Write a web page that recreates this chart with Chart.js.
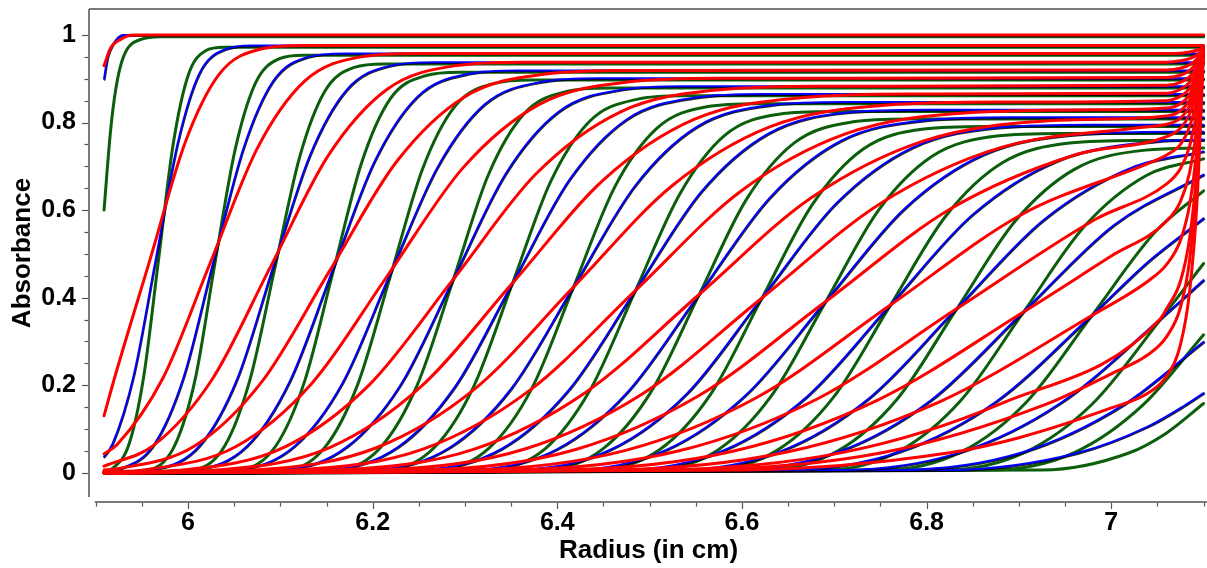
<!DOCTYPE html>
<html>
<head>
<meta charset="utf-8">
<script src="https://cdn.jsdelivr.net/npm/chart.js@4.4.1/dist/chart.umd.min.js"></script>
<style>
html,body{margin:0;padding:0;background:#fff;}
canvas{display:block;}
</style>
</head>
<body>
<canvas id="c" width="1207" height="568"></canvas>
<script>
// ---- data: each curve is a list of [radius, absorbance] points ----
const xTicks = [6, 6.2, 6.4, 6.6, 6.8, 7];
const yTicks = [0, 0.2, 0.4, 0.6, 0.8, 1];
const xTitle = 'Radius (in cm)';
const yTitle = 'Absorbance';

const green = [
 [[5.909,0.60],[5.916,0.78],[5.922,0.88],[5.930,0.95],[5.949,0.99],[5.97,0.996],[7.1,0.996]],
 [[5.909,0.003],[5.917,0.008],[5.936,0.065],[5.952,0.220],[5.968,0.486],[5.984,0.752],[6.000,0.907],[6.019,0.964],[6.039,0.972],[7.1,0.972]],
 [[5.909,0],[5.960,0.008],[5.986,0.064],[6.008,0.216],[6.029,0.477],[6.051,0.738],[6.073,0.890],[6.099,0.946],[6.125,0.954],[7.1,0.954]],
 [[5.909,0],[6.008,0.008],[6.040,0.062],[6.067,0.212],[6.094,0.467],[6.121,0.722],[6.148,0.871],[6.180,0.926],[6.212,0.934],[7.1,0.934]],
 [[5.909,0],[6.058,0.008],[6.095,0.061],[6.126,0.207],[6.157,0.458],[6.188,0.708],[6.219,0.854],[6.257,0.907],[6.294,0.915],[7.1,0.915]],
 [[5.909,0],[6.108,0.007],[6.149,0.060],[6.184,0.203],[6.219,0.448],[6.254,0.694],[6.289,0.837],[6.331,0.889],[6.373,0.897],[7.1,0.897]],
 [[5.909,0],[6.163,0.007],[6.209,0.059],[6.248,0.199],[6.287,0.439],[6.325,0.679],[6.364,0.820],[6.410,0.871],[6.456,0.879],[7.1,0.879]],
 [[5.909,0],[6.217,0.007],[6.267,0.058],[6.309,0.195],[6.351,0.430],[6.393,0.666],[6.435,0.803],[6.486,0.853],[6.536,0.861],[7.1,0.861]],
 [[5.909,0],[6.272,0.007],[6.326,0.056],[6.372,0.191],[6.417,0.421],[6.462,0.652],[6.508,0.787],[6.562,0.836],[6.617,0.843],[7.1,0.843]],
 [[5.909,0],[6.328,0.007],[6.387,0.055],[6.435,0.187],[6.484,0.413],[6.533,0.638],[6.581,0.770],[6.640,0.819],[6.698,0.825],[7.1,0.825]],
 [[5.909,0],[6.387,0.007],[6.449,0.054],[6.501,0.183],[6.553,0.404],[6.605,0.625],[6.657,0.754],[6.719,0.801],[6.781,0.808],[7.1,0.808]],
 [[5.909,0],[6.445,0.007],[6.511,0.053],[6.566,0.179],[6.621,0.396],[6.676,0.612],[6.731,0.739],[6.797,0.785],[6.863,0.791],[7.1,0.791]],
 [[5.909,0],[6.505,0.006],[6.574,0.052],[6.632,0.176],[6.690,0.388],[6.748,0.600],[6.806,0.723],[6.876,0.769],[6.945,0.775],[7.1,0.775]],
 [[5.909,0],[6.565,0.006],[6.638,0.051],[6.699,0.172],[6.760,0.380],[6.821,0.587],[6.882,0.708],[6.955,0.753],[7.028,0.759],[7.1,0.759]],
 [[5.909,0],[6.627,0.006],[6.704,0.050],[6.768,0.168],[6.832,0.372],[6.896,0.575],[6.960,0.693],[7.037,0.737],[7.1,0.742]],
 [[5.909,0],[6.690,0.006],[6.770,0.049],[6.837,0.165],[6.904,0.364],[6.971,0.563],[7.038,0.679],[7.1,0.717]],
 [[5.909,0],[6.754,0.006],[6.838,0.048],[6.908,0.161],[6.978,0.356],[7.048,0.551],[7.1,0.644]],
 [[5.909,0],[6.820,0.006],[6.907,0.047],[6.980,0.158],[7.053,0.349],[7.1,0.478]],
 [[5.909,0],[6.870,0.006],[6.960,0.046],[7.035,0.156],[7.1,0.315]],
 [[5.909,0],[6.925,0.006],[7.019,0.045],[7.06,0.091],[7.1,0.158]]
];

const blue = [
 [[5.909,0.90],[5.913,0.95],[5.919,0.98],[5.930,1.0],[7.1,1.0]],
 [[5.909,0.037],[5.918,0.065],[5.941,0.221],[5.965,0.488],[5.989,0.755],[6.012,0.911],[6.041,0.968],[6.069,0.976],[7.1,0.976]],
 [[5.909,0.003],[5.925,0.008],[5.963,0.064],[5.995,0.217],[6.027,0.479],[6.060,0.741],[6.092,0.894],[6.130,0.950],[6.169,0.958],[7.1,0.958]],
 [[5.909,0],[5.965,0.008],[6.013,0.063],[6.053,0.213],[6.092,0.469],[6.132,0.725],[6.172,0.875],[6.219,0.930],[6.267,0.938],[7.1,0.938]],
 [[5.909,0],[6.009,0.008],[6.064,0.061],[6.110,0.208],[6.156,0.460],[6.202,0.711],[6.248,0.858],[6.303,0.911],[6.358,0.919],[7.1,0.919]],
 [[5.909,0],[6.053,0.007],[6.115,0.060],[6.167,0.204],[6.218,0.450],[6.270,0.697],[6.321,0.841],[6.383,0.893],[6.445,0.901],[7.1,0.901]],
 [[5.909,0],[6.104,0.007],[6.172,0.059],[6.230,0.200],[6.287,0.441],[6.344,0.683],[6.401,0.824],[6.469,0.875],[6.538,0.883],[7.1,0.883]],
 [[5.909,0],[6.152,0.007],[6.227,0.058],[6.289,0.196],[6.351,0.432],[6.413,0.669],[6.475,0.807],[6.550,0.857],[6.625,0.865],[7.1,0.865]],
 [[5.909,0],[6.202,0.007],[6.283,0.057],[6.350,0.192],[6.417,0.423],[6.484,0.655],[6.551,0.790],[6.632,0.840],[6.713,0.847],[7.1,0.847]],
 [[5.909,0],[6.254,0.007],[6.340,0.055],[6.412,0.188],[6.484,0.415],[6.556,0.642],[6.628,0.774],[6.714,0.823],[6.801,0.829],[7.1,0.829]],
 [[5.909,0],[6.308,0.007],[6.400,0.054],[6.476,0.184],[6.553,0.406],[6.630,0.628],[6.707,0.758],[6.799,0.805],[6.891,0.812],[7.1,0.812]],
 [[5.909,0],[6.361,0.007],[6.458,0.053],[6.540,0.180],[6.621,0.398],[6.702,0.615],[6.784,0.742],[6.881,0.789],[6.979,0.795],[7.1,0.795]],
 [[5.909,0],[6.415,0.006],[6.518,0.052],[6.604,0.177],[6.690,0.390],[6.776,0.603],[6.862,0.727],[6.965,0.773],[7.068,0.779],[7.1,0.779]],
 [[5.909,0],[6.471,0.006],[6.580,0.051],[6.670,0.173],[6.760,0.382],[6.850,0.590],[6.941,0.712],[7.049,0.757],[7.1,0.761]],
 [[5.909,0],[6.529,0.006],[6.643,0.050],[6.737,0.169],[6.832,0.374],[6.927,0.578],[7.022,0.697],[7.1,0.734]],
 [[5.909,0],[6.587,0.006],[6.706,0.049],[6.805,0.166],[6.904,0.366],[7.003,0.566],[7.1,0.681]],
 [[5.909,0],[6.647,0.006],[6.771,0.048],[6.875,0.162],[6.978,0.358],[7.04,0.482],[7.1,0.581]],
 [[5.909,0],[6.708,0.006],[6.837,0.047],[6.945,0.159],[7.053,0.351],[7.1,0.440]],
 [[5.909,0],[6.770,0.006],[6.903,0.046],[7.014,0.156],[7.1,0.299]],
 [[5.909,0],[6.824,0.006],[6.963,0.045],[7.04,0.106],[7.079,0.153],[7.1,0.182]]
];

const red = [
 [[5.909,0.93],[5.916,0.97],[5.927,0.99],[5.941,1.0],[7.1,1.0]],
 [[5.909,0.13],[5.921,0.221],[5.959,0.488],[5.997,0.755],[6.034,0.911],[6.079,0.968],[6.125,0.976],[7.1,0.976]],
 [[5.909,0.043],[5.923,0.064],[5.973,0.217],[6.024,0.479],[6.075,0.741],[6.126,0.894],[6.187,0.950],[6.248,0.958],[7.07,0.958],[7.085,0.961],[7.1,0.97]],
 [[5.909,0.015],[5.963,0.063],[6.026,0.213],[6.089,0.469],[6.152,0.725],[6.215,0.875],[6.290,0.930],[6.366,0.938],[7.06,0.938],[7.075,0.941],[7.085,0.946],[7.093,0.955],[7.1,0.97]],
 [[5.909,0.006],[5.920,0.008],[6.007,0.061],[6.080,0.208],[6.153,0.460],[6.226,0.711],[6.299,0.858],[6.387,0.911],[6.474,0.919],[7.06,0.920],[7.075,0.924],[7.085,0.932],[7.093,0.946],[7.1,0.97]],
 [[5.909,0.002],[5.954,0.007],[6.052,0.060],[6.134,0.204],[6.216,0.450],[6.298,0.697],[6.380,0.841],[6.478,0.893],[6.576,0.901],[7.06,0.903],[7.075,0.908],[7.085,0.919],[7.093,0.938],[7.1,0.97]],
 [[5.909,0.001],[5.997,0.007],[6.105,0.059],[6.196,0.200],[6.287,0.441],[6.377,0.683],[6.468,0.824],[6.576,0.875],[6.685,0.883],[7.06,0.885],[7.075,0.892],[7.085,0.905],[7.093,0.929],[7.1,0.97]],
 [[5.909,0],[6.035,0.007],[6.154,0.058],[6.252,0.196],[6.351,0.432],[6.450,0.669],[6.548,0.807],[6.667,0.857],[6.785,0.865],[7.06,0.867],[7.075,0.876],[7.085,0.892],[7.093,0.921],[7.1,0.97]],
 [[5.909,0],[6.076,0.007],[6.204,0.057],[6.311,0.192],[6.417,0.423],[6.524,0.655],[6.630,0.790],[6.758,0.840],[6.886,0.847],[7.06,0.850],[7.075,0.860],[7.085,0.878],[7.093,0.912],[7.1,0.97]],
 [[5.909,0],[6.119,0.007],[6.256,0.055],[6.370,0.188],[6.484,0.415],[6.598,0.642],[6.712,0.774],[6.849,0.823],[6.986,0.829],[7.06,0.833],[7.075,0.843],[7.085,0.864],[7.093,0.903],[7.1,0.97]],
 [[5.909,0],[6.164,0.007],[6.310,0.054],[6.431,0.184],[6.553,0.406],[6.675,0.628],[6.797,0.758],[6.943,0.805],[7.06,0.815],[7.075,0.827],[7.085,0.852],[7.093,0.895],[7.1,0.97]],
 [[5.909,0],[6.213,0.007],[6.363,0.053],[6.492,0.180],[6.621,0.398],[6.750,0.615],[6.879,0.742],[7.034,0.789],[7.06,0.796],[7.075,0.810],[7.085,0.838],[7.093,0.888],[7.1,0.97]],
 [[5.909,0],[6.255,0.006],[6.418,0.052],[6.554,0.177],[6.690,0.390],[6.826,0.603],[6.962,0.727],[7.06,0.768],[7.075,0.787],[7.085,0.820],[7.093,0.875],[7.1,0.97]],
 [[5.909,0],[6.302,0.006],[6.474,0.051],[6.617,0.173],[6.760,0.382],[6.903,0.590],[7.046,0.712],[7.06,0.726],[7.075,0.750],[7.085,0.791],[7.093,0.858],[7.1,0.97]],
 [[5.909,0],[6.351,0.006],[6.532,0.050],[6.682,0.169],[6.832,0.374],[6.982,0.578],[7.06,0.660],[7.075,0.695],[7.085,0.747],[7.093,0.831],[7.1,0.97]],
 [[5.909,0],[6.401,0.006],[6.590,0.049],[6.747,0.166],[6.904,0.366],[7.0,0.495],[7.06,0.575],[7.075,0.620],[7.085,0.687],[7.093,0.794],[7.1,0.97]],
 [[5.909,0],[6.453,0.006],[6.650,0.048],[6.814,0.162],[6.978,0.358],[7.04,0.438],[7.06,0.476],[7.075,0.531],[7.085,0.614],[7.093,0.749],[7.1,0.97]],
 [[5.909,0],[6.505,0.006],[6.711,0.047],[6.882,0.159],[7.053,0.351],[7.06,0.375],[7.075,0.438],[7.085,0.538],[7.093,0.701],[7.1,0.97]],
 [[5.909,0],[6.542,0.006],[6.753,0.046],[6.929,0.156],[7.0,0.226],[7.04,0.270],[7.06,0.311],[7.075,0.378],[7.085,0.488],[7.093,0.669],[7.1,0.97]],
 [[5.909,0],[6.602,0.006],[6.823,0.045],[6.9,0.080],[7.0,0.148],[7.04,0.182],[7.06,0.221],[7.075,0.293],[7.085,0.416],[7.093,0.623],[7.1,0.97]]
];

// ---- styling ----
const COL_RED = '#ff0000', COL_BLUE = '#0000ff', COL_GREEN = '#0b5e0b';
const FONT = '"Liberation Sans", Arial, Helvetica, sans-serif';
const AXIS_COL = '#7a7a7a';

function mk(curve, color, width, order, shadow) {
  return {
    data: curve.map(p => ({x: p[0], y: p[1]})),
    borderColor: color, borderWidth: width, order: order,
    fill: false, pointRadius: 0, cubicInterpolationMode: 'monotone',
    borderJoinStyle: 'round', borderCapStyle: 'round', shadow: shadow
  };
}
const datasets = [];
green.forEach(c => datasets.push(mk(c, COL_GREEN, 3, 3, false)));
blue.forEach(c => datasets.push(mk(c, COL_BLUE, 2, 2, true)));
red.forEach(c => datasets.push(mk(c, COL_RED, 3, 1, false)));

const shadowPlugin = {
  id: 'blueShadow',
  beforeDatasetDraw(chart, args) {
    const ds = chart.data.datasets[args.index];
    if (ds.shadow) {
      const ctx = chart.ctx;
      ctx.save();
      ctx.shadowColor = 'rgba(0,0,0,0.85)';
      ctx.shadowOffsetX = 0.6; ctx.shadowOffsetY = 0.9; ctx.shadowBlur = 0;
    }
  },
  afterDatasetDraw(chart, args) {
    const ds = chart.data.datasets[args.index];
    if (ds.shadow) chart.ctx.restore();
  }
};

const axisPlugin = {
  id: 'axisLines',
  afterDraw(chart) {
    const {ctx, chartArea} = chart;
    const xs = chart.scales.x, ys = chart.scales.y;
    ctx.save();
    ctx.strokeStyle = AXIS_COL;
    ctx.lineWidth = 2;
    // top frame
    ctx.beginPath(); ctx.moveTo(chartArea.left - 1, 9); ctx.lineTo(chart.width, 9); ctx.stroke();
    // y axis line
    ctx.beginPath(); ctx.moveTo(chartArea.left - 1, 9); ctx.lineTo(chartArea.left - 1, chartArea.bottom); ctx.stroke();
    // x axis line
    const x0 = xs.getPixelForValue(5.9);
    ctx.beginPath(); ctx.moveTo(x0 - 1, chartArea.bottom + 5); ctx.lineTo(chart.width, chartArea.bottom + 5); ctx.stroke();
    ctx.lineWidth = 1.2;
    ctx.strokeStyle = '#555';
    // y ticks
    for (let k = 0; k <= 20; k++) {
      const py = Math.round(ys.getPixelForValue(k / 20)) + 0.5;
      const len = (k % 4 === 0) ? 6 : 3.5;
      ctx.beginPath(); ctx.moveTo(chartArea.left - 2, py); ctx.lineTo(chartArea.left - 2 - len, py); ctx.stroke();
    }
    // x ticks
    for (let k = 118; k <= 142; k++) {
      const px = Math.round(xs.getPixelForValue(k / 20)) + 0.5;
      const len = (k % 4 === 0) ? 6 : 3.5;
      ctx.beginPath(); ctx.moveTo(px, chartArea.bottom + 6); ctx.lineTo(px, chartArea.bottom + 6 + len); ctx.stroke();
    }
    ctx.restore();
  }
};

new Chart(document.getElementById('c'), {
  type: 'line',
  data: { datasets },
  plugins: [shadowPlugin, axisPlugin],
  options: {
    responsive: false,
    animation: false,
    devicePixelRatio: 1,
    layout: { padding: { top: 9, right: 0, left: 0, bottom: 0 } },
    plugins: { legend: { display: false }, tooltip: { enabled: false } },
    scales: {
      x: {
        type: 'linear', min: 5.8938, max: 7.1037,
        grid: { display: false, drawTicks: false },
        border: { display: false },
        afterBuildTicks: s => { s.ticks = xTicks.map(v => ({ value: v })); },
        afterFit: s => { s.height = 71; s.paddingLeft = 0; s.paddingRight = 0; },
        ticks: { color: '#000', padding: 11, maxRotation: 0, autoSkip: false,
                 font: { family: FONT, size: 25, weight: 'bold' },
                 callback: v => String(v) },
        title: { display: true, text: xTitle, color: '#000',
                 font: { family: FONT, size: 26, weight: 'bold' },
                 padding: { top: 0, bottom: 2 } }
      },
      y: {
        type: 'linear', min: -0.0555, max: 1.0594,
        grid: { display: false, drawTicks: false },
        border: { display: false },
        afterBuildTicks: s => { s.ticks = yTicks.map(v => ({ value: v })); },
        afterFit: s => { s.width = 90; s.paddingTop = 0; s.paddingBottom = 0; },
        ticks: { color: '#000', padding: 14,
                 font: { family: FONT, size: 25, weight: 'bold' },
                 callback: v => String(v) },
        title: { display: true, text: yTitle, color: '#000',
                 font: { family: FONT, size: 26, weight: 'bold' },
                 padding: { top: 7, bottom: 0 } }
      }
    }
  }
});
</script>
</body>
</html>
